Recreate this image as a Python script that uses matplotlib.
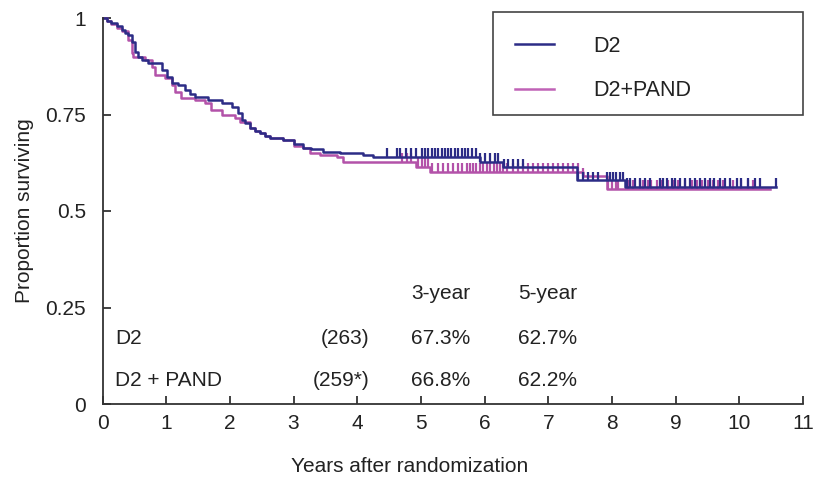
import numpy as np
import matplotlib
matplotlib.use('Agg')
import matplotlib.pyplot as plt
from matplotlib.patches import Rectangle
from matplotlib.lines import Line2D

plt.rcParams['font.family'] = ['Liberation Sans', 'DejaVu Sans']

# Kaplan-Meier steps (time in years, survival after step)
d2_time = [0, 0.07, 0.14, 0.22, 0.30, 0.35, 0.40, 0.46, 0.51, 0.56, 0.62, 0.72, 0.93, 1.01,
           1.09, 1.19, 1.30, 1.38, 1.45, 1.66, 1.87, 2.03, 2.13, 2.19, 2.24, 2.32, 2.40,
           2.47, 2.55, 2.63, 2.84, 3.00, 3.15, 3.28, 3.47, 3.73, 4.09, 4.25, 5.93, 6.29,
           7.45, 8.20]
d2_surv = [1.0, 0.993, 0.986, 0.978, 0.969, 0.962, 0.956, 0.939, 0.913, 0.900, 0.891, 0.883,
           0.865, 0.848, 0.831, 0.826, 0.813, 0.804, 0.796, 0.788, 0.779, 0.770, 0.753,
           0.736, 0.727, 0.714, 0.708, 0.701, 0.694, 0.688, 0.684, 0.673, 0.662, 0.660,
           0.654, 0.649, 0.645, 0.640, 0.628, 0.614, 0.580, 0.563]
d2_end = 10.58

pand_time = [0, 0.07, 0.14, 0.22, 0.30, 0.40, 0.46, 0.48, 0.67, 0.77, 0.82, 0.98, 1.09,
             1.14, 1.24, 1.45, 1.61, 1.71, 1.87, 2.08, 2.16, 2.32, 2.40, 2.47, 2.55, 2.63,
             2.84, 3.00, 3.15, 3.26, 3.41, 3.68, 3.78, 4.93, 5.14, 7.55, 7.92]
pand_surv = [1.0, 0.992, 0.984, 0.975, 0.966, 0.943, 0.909, 0.900, 0.891, 0.874, 0.852,
             0.844, 0.826, 0.809, 0.792, 0.788, 0.779, 0.762, 0.749, 0.740, 0.731, 0.714,
             0.708, 0.701, 0.694, 0.688, 0.684, 0.668, 0.662, 0.649, 0.645, 0.641, 0.628,
             0.615, 0.602, 0.590, 0.558]
pand_end = 10.48

# censoring marks (years)
d2_cens = [4.46, 4.62, 4.67, 4.76, 4.85, 4.93, 5.01, 5.06, 5.11, 5.17, 5.22, 5.27, 5.33,
           5.38, 5.43, 5.48, 5.53, 5.59, 5.64, 5.69, 5.74, 5.80, 5.87, 5.93, 6.00, 6.08,
           6.16, 6.21, 6.30, 6.37, 6.45, 6.53, 6.61, 7.47, 7.55, 7.63, 7.70, 7.78, 7.92,
           7.97, 8.02, 8.07, 8.12, 8.18, 8.23, 8.28, 8.36, 8.44, 8.52, 8.60, 8.75, 8.80,
           8.86, 8.94, 8.99, 9.07, 9.14, 9.22, 9.30, 9.38, 9.46, 9.54, 9.61, 9.69, 9.77,
           9.85, 9.96, 10.03, 10.14, 10.24, 10.32, 10.58]
pand_cens = [4.70, 4.78, 4.85, 4.96, 5.01, 5.06, 5.11, 5.17, 5.27, 5.35, 5.43, 5.51, 5.59,
             5.64, 5.72, 5.77, 5.82, 5.87, 5.93, 5.98, 6.03, 6.08, 6.14, 6.19, 6.24, 6.29,
             6.35, 6.45, 6.53, 6.61, 6.68, 6.76, 6.84, 6.92, 7.00, 7.08, 7.16, 7.23, 7.31,
             7.39, 7.47, 7.55, 7.94, 8.00, 8.06, 8.10, 8.25, 8.33, 8.44, 8.49, 8.57, 8.62,
             8.70, 8.78, 8.88, 8.96, 9.04, 9.14, 9.25, 9.33, 9.41, 9.51, 9.59, 9.67, 9.75,
             9.90, 10.03, 10.14, 10.22]

groups = ['D2', 'D2 + PAND']
counts = ['(263)', '(259*)']
rate_3y = ['67.3%', '66.8%']
rate_5y = ['62.7%', '62.2%']

BLUE = '#2c2c86'
PURPLE = '#b352a9'
TXT = '#222222'
FS = 15


def step_at(times, surv, t):
    idx = np.searchsorted(times, t, side='right') - 1
    return np.asarray(surv)[idx]


fig = plt.figure(figsize=(8.16, 4.82), dpi=100)
ax = fig.add_axes([102.5 / 816, 1 - 404 / 482, (803 - 102.5) / 816, (404 - 18) / 482])

for times, surv, end, cens, col in [(pand_time, pand_surv, pand_end, pand_cens, PURPLE),
                                    (d2_time, d2_surv, d2_end, d2_cens, BLUE)]:
    x = list(times) + [end]
    y = list(surv) + [surv[-1]]
    ax.step(x, y, where='post', color=col, linewidth=1.8, clip_on=False)
    base = step_at(times, surv, cens)
    ax.vlines(cens, base, base + 0.022, color=col, linewidth=1.6)

ax.set_xlim(0, 11)
ax.set_ylim(0, 1)
ax.set_xticks(range(12))
ax.set_yticks([0, 0.25, 0.5, 0.75, 1])
ax.set_yticklabels(['0', '0.25', '0.5', '0.75', '1'])
for s in ['top', 'right']:
    ax.spines[s].set_visible(False)
for s in ['left', 'bottom']:
    ax.spines[s].set_color('#333333')
    ax.spines[s].set_linewidth(1.3)
ax.tick_params(axis='both', direction='in', length=6, width=1.3, color='#333333',
               labelsize=FS, labelcolor=TXT)
ax.tick_params(axis='y', pad=12)
ax.tick_params(axis='x', pad=7)

ax.set_ylabel('Proportion surviving', fontsize=FS, color=TXT, labelpad=8)
ax.set_xlabel('Years after randomization', fontsize=FS, color=TXT, va='center')
ax.xaxis.set_label_coords(0.439, -0.163)

# table of rates
ax.text(4.85, 0.287, '3-year', fontsize=FS, va='center', color=TXT)
ax.text(6.52, 0.287, '5-year', fontsize=FS, va='center', color=TXT)
for i, yy in enumerate([0.170, 0.060]):
    ax.text(0.2, yy, groups[i], fontsize=FS, va='center', color=TXT)
    ax.text(4.19, yy, counts[i], fontsize=FS, va='center', ha='right', color=TXT)
    ax.text(4.85, yy, rate_3y[i], fontsize=FS, va='center', color=TXT)
    ax.text(6.52, yy, rate_5y[i], fontsize=FS, va='center', color=TXT)

# legend box
W, H = 816, 482
fig.add_artist(Rectangle((492.5 / W, 1 - 115 / H), (803 - 492.5) / W, (115 - 12.5) / H,
                         transform=fig.transFigure, fill=False, edgecolor='#444444',
                         linewidth=1.2))
for yy, col, lab in [(44, BLUE, 'D2'), (88.5, '#c062b6', 'D2+PAND')]:
    fig.add_artist(Line2D([515 / W, 554 / W], [1 - yy / H, 1 - yy / H],
                          transform=fig.transFigure, color=col, linewidth=1.8))
    fig.text(593 / W, 1 - (yy + 2.5) / H, lab, fontsize=FS + 0.5, va='center', color=TXT)

fig.savefig('out.png', dpi=100)
